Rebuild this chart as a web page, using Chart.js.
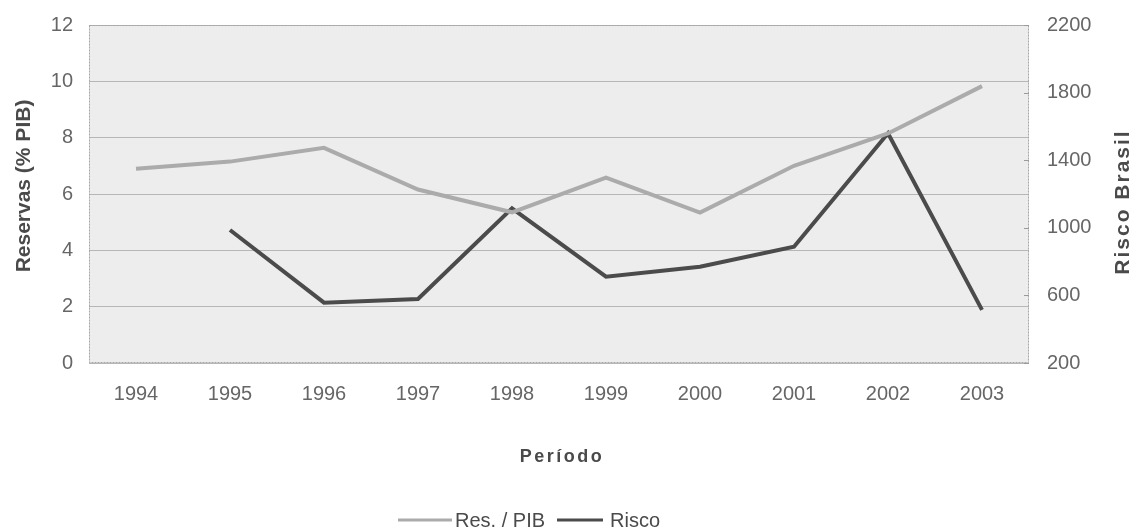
<!DOCTYPE html>
<html>
<head>
<meta charset="utf-8">
<script src="https://cdn.jsdelivr.net/npm/chart.js@4/dist/chart.umd.min.js"></script>
<style>
  html, body { margin: 0; padding: 0; background: #ffffff; }
  #wrap { position: relative; width: 1136px; height: 531px; }
</style>
</head>
<body>
<div id="wrap"><canvas id="c" width="1136" height="531"></canvas></div>
<script>
// Anos do período
const periodos = ['1994', '1995', '1996', '1997', '1998', '1999', '2000', '2001', '2002', '2003'];
// Reservas internacionais em % do PIB (eixo esquerdo)
const reservasPIB = [6.9, 7.15, 7.64, 6.16, 5.35, 6.58, 5.34, 7.0, 8.15, 9.83];
// Risco Brasil em pontos-base (eixo direito)
const riscoBrasil = [null, 987, 557, 579, 1115, 711, 770, 888, 1559, 514];
// Marcas dos eixos
const ticksReservas = [0, 2, 4, 6, 8, 10, 12];
const ticksRisco = [200, 600, 1000, 1400, 1800, 2200];

const FONT = "'Liberation Sans', Arial, sans-serif";
const TICK_COLOR = '#666666';
const TITLE_COLOR = '#4a4a4a';
const COR_RES = '#ababab';
const COR_RISCO = '#4b4b4b';

// Fundo da área de plotagem, borda pontilhada, títulos e legenda
const decoracao = {
  id: 'decoracao',
  beforeDraw(chart) {
    const { ctx, chartArea: a } = chart;
    ctx.save();
    ctx.fillStyle = '#ededed';
    ctx.fillRect(a.left, a.top, a.right - a.left, a.bottom - a.top);
    ctx.restore();
  },
  afterDatasetsDraw(chart) {
    const { ctx, chartArea: a, scales } = chart;
    ctx.save();
    // borda
    ctx.strokeStyle = '#a6a6a6';
    ctx.lineWidth = 1;
    ctx.setLineDash([2, 1]);
    ctx.strokeRect(a.left + 0.5, a.top + 0.5, a.right - a.left - 1, a.bottom - a.top - 1);
    ctx.setLineDash([]);
    // pequenas marcas do eixo direito
    ctx.strokeStyle = '#9a9a9a';
    ticksRisco.forEach(v => {
      const y = Math.round(scales.yRisco.getPixelForValue(v)) + 0.5;
      ctx.beginPath();
      ctx.moveTo(a.right - 5, y);
      ctx.lineTo(a.right, y);
      ctx.stroke();
    });
    ctx.restore();
  },
  afterDraw(chart) {
    const { ctx } = chart;
    const hasLS = 'letterSpacing' in ctx;
    ctx.save();
    ctx.fillStyle = TITLE_COLOR;
    ctx.textAlign = 'center';
    ctx.textBaseline = 'middle';
    // título eixo esquerdo
    ctx.font = "bold 21px " + FONT;
    ctx.save();
    ctx.translate(24, 186);
    ctx.rotate(-Math.PI / 2);
    ctx.fillText('Reservas (% PIB)', 0, 0);
    ctx.restore();
    // título eixo direito
    ctx.save();
    ctx.translate(1123, 202);
    ctx.rotate(-Math.PI / 2);
    if (hasLS) ctx.letterSpacing = '2px';
    ctx.fillText('Risco Brasil', 0, 0);
    ctx.restore();
    // título eixo x
    ctx.font = "bold 18px " + FONT;
    if (hasLS) ctx.letterSpacing = '2.5px';
    ctx.fillText('Período', 562, 457);
    if (hasLS) ctx.letterSpacing = '0px';
    // legenda
    ctx.textAlign = 'left';
    ctx.font = "20px " + FONT;
    ctx.fillStyle = '#4a4a4a';
    const itens = [
      { x: 398, w: 54, gap: 3, cor: COR_RES, texto: chart.data.datasets[0].label },
      { x: 557, w: 46, gap: 7, cor: COR_RISCO, texto: chart.data.datasets[1].label }
    ];
    itens.forEach(it => {
      ctx.strokeStyle = it.cor;
      ctx.lineWidth = 3;
      ctx.beginPath();
      ctx.moveTo(it.x, 520);
      ctx.lineTo(it.x + it.w, 520);
      ctx.stroke();
      ctx.fillText(it.texto, it.x + it.w + it.gap, 521);
    });
    ctx.restore();
  }
};

const tickFont = { family: FONT, size: 20 };
const semSeparador = v => String(v);
// os rótulos dos eixos verticais não precisam de folga extra no topo
const semFolga = w => s => { s.width = w; s.paddingTop = 0; s.paddingBottom = 0; };

new Chart(document.getElementById('c'), {
  type: 'line',
  data: {
    labels: periodos,
    datasets: [
      {
        label: 'Res. / PIB',
        data: reservasPIB,
        yAxisID: 'yRes',
        borderColor: COR_RES,
        backgroundColor: COR_RES,
        borderWidth: 4,
        pointRadius: 0,
        tension: 0,
        spanGaps: false
      },
      {
        label: 'Risco',
        data: riscoBrasil,
        yAxisID: 'yRisco',
        borderColor: COR_RISCO,
        backgroundColor: COR_RISCO,
        borderWidth: 4,
        pointRadius: 0,
        tension: 0,
        spanGaps: false
      }
    ]
  },
  options: {
    responsive: false,
    animation: false,
    devicePixelRatio: 1,
    layout: { padding: { top: 25, left: 0, right: 0, bottom: 0 } },
    plugins: {
      legend: { display: false },
      tooltip: { enabled: false }
    },
    scales: {
      x: {
        offset: true,
        grid: { display: false, drawTicks: false },
        border: { display: false },
        ticks: { color: TICK_COLOR, font: tickFont, padding: 19, maxRotation: 0 },
        afterFit(s) { s.height = 168; }
      },
      yRes: {
        position: 'left',
        min: 0, max: 12,
        afterBuildTicks(s) { s.ticks = ticksReservas.map(v => ({ value: v })); },
        grid: { color: '#b6b6b6', lineWidth: 1, drawTicks: false },
        border: { display: false },
        ticks: { color: TICK_COLOR, font: tickFont, padding: 16, callback: semSeparador },
        afterFit: semFolga(89)
      },
      yRisco: {
        position: 'right',
        min: 200, max: 2200,
        afterBuildTicks(s) { s.ticks = ticksRisco.map(v => ({ value: v })); },
        grid: { display: false, drawTicks: false },
        border: { display: false },
        ticks: { color: TICK_COLOR, font: tickFont, padding: 18, callback: semSeparador },
        afterFit: semFolga(1136 - 1029)
      }
    }
  },
  plugins: [decoracao]
});
</script>
</body>
</html>
